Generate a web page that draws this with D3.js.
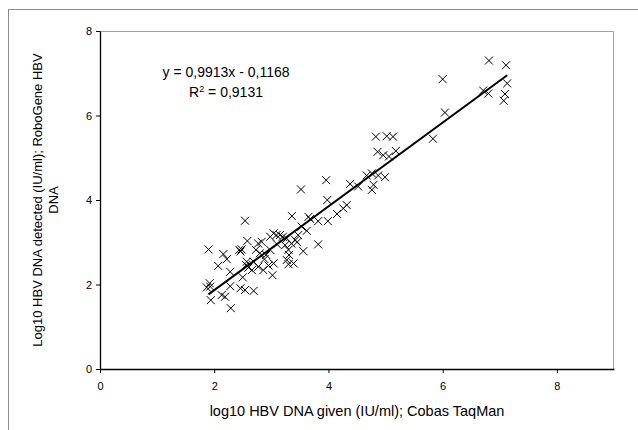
<!DOCTYPE html>
<html>
<head>
<meta charset="utf-8">
<script src="https://cdn.jsdelivr.net/npm/d3@7"></script>
<style>
  body { margin: 0; background: #fff; }
  text { font-family: "Liberation Sans", Arial, sans-serif; fill: #000; }
</style>
</head>
<body>
<div id="chart"></div>
<script>
// data: given (Cobas) vs detected (RoboGene), log10 IU/ml
var givenX = [
  6.81, 7.11, 6.00, 7.13, 6.71, 6.80, 7.09, 7.07, 6.04, 5.83,
  4.83, 5.02, 5.13, 4.86, 4.96, 5.06, 5.18, 4.76, 4.87, 4.99, 4.79, 4.76, 4.67,
  3.96, 3.52, 4.38, 4.52, 3.98, 4.32, 4.26, 4.15, 3.36, 3.65, 3.68, 3.82, 3.99,
  3.53, 3.15, 3.27, 3.47, 3.62, 3.42, 3.82, 3.56, 3.24, 3.30, 3.31, 3.27, 3.39,
  3.30, 3.09, 3.20, 3.35, 3.45,
  2.54, 1.90, 2.58, 2.44, 2.46, 2.16, 2.22, 2.07, 2.28, 2.57, 2.56, 2.50, 2.77,
  2.83, 2.98, 3.04, 2.73, 2.80, 2.91, 2.98, 2.69, 2.77, 2.86, 3.04, 3.02, 2.66,
  1.92, 1.87, 1.93, 2.28, 2.46, 2.54, 2.69, 2.13, 2.19, 1.94, 2.29,
  2.60, 2.48, 2.95, 3.10, 2.88
];
var detectedY = [
  7.30, 7.19, 6.86, 6.76, 6.59, 6.52, 6.51, 6.35, 6.07, 5.45,
  5.50, 5.51, 5.50, 5.14, 5.06, 5.03, 5.16, 4.63, 4.58, 4.54, 4.36, 4.24, 4.58,
  4.47, 4.25, 4.38, 4.32, 4.00, 3.88, 3.80, 3.67, 3.62, 3.60, 3.55, 3.50, 3.50,
  3.37, 3.17, 3.09, 3.17, 3.27, 3.05, 2.95, 2.79, 2.93, 2.82, 2.70, 2.58, 2.50,
  2.48, 3.17, 3.13, 2.97, 3.00,
  3.51, 2.83, 3.03, 2.82, 2.78, 2.72, 2.60, 2.44, 2.30, 2.54, 2.46, 2.17, 2.97,
  3.01, 3.13, 3.21, 2.82, 2.74, 2.70, 2.82, 2.54, 2.42, 2.34, 2.50, 2.22, 2.34,
  2.03, 1.93, 1.95, 1.96, 1.91, 1.87, 1.85, 1.75, 1.71, 1.63, 1.44,
  2.40, 2.83, 2.45, 2.95, 2.60
];
var xTicks = [0, 2, 4, 6, 8];
var yTicks = [0, 2, 4, 6, 8];
var slope = 0.9913, intercept = -0.1168;
var fitRange = [1.9, 7.13];
var eqText = "y = 0,9913x - 0,1168";
var r2Value = " = 0,9131";

var svgWidth = 638, svgHeight = 430;
var margin = { top: 31, right: 24, bottom: 61, left: 100 };
var width = svgWidth - margin.left - margin.right;
var height = svgHeight - margin.top - margin.bottom;

var svg = d3.select("#chart").append("svg")
  .attr("width", svgWidth)
  .attr("height", svgHeight);

// outer chart frame (only left/top visible)
svg.append("rect")
  .attr("x", 8.5).attr("y", 9.5)
  .attr("width", 700).attr("height", 500)
  .attr("fill", "none")
  .attr("stroke", "#8c8c8c");

var chartGroup = svg.append("g")
  .attr("transform", `translate(${margin.left}, ${margin.top})`);

var x = d3.scaleLinear().domain([0, 9]).range([0, width]);
var y = d3.scaleLinear().domain([0, 8]).range([height, 0]);

// plot area top/right border
chartGroup.append("path")
  .attr("d", `M0,0.5H${width - 0.5}V${height}`)
  .attr("fill", "none")
  .attr("stroke", "#a0a0a0");

var xAxis = chartGroup.append("g")
  .attr("transform", `translate(0, ${height})`)
  .call(d3.axisBottom(x).tickValues(xTicks).tickSize(4).tickSizeOuter(0));
var yAxis = chartGroup.append("g")
  .call(d3.axisLeft(y).tickValues(yTicks).tickSize(4).tickSizeOuter(0));

[xAxis, yAxis].forEach(function (ax) {
  ax.select(".domain").attr("stroke", "#000").attr("stroke-width", 1.3);
  ax.selectAll("text")
    .attr("font-family", "Liberation Sans, Arial, sans-serif")
    .attr("font-size", "11px")
    .attr("fill", "#000");
});
xAxis.selectAll("text").attr("dy", "1.3em");
yAxis.selectAll("text").attr("x", -8);

var points = givenX.map(function (v, i) { return { x: v, y: detectedY[i] }; });

// X markers
chartGroup.selectAll(".pt")
  .data(points)
  .enter()
  .append("path")
  .attr("class", "pt")
  .attr("transform", d => `translate(${x(d.x)}, ${y(d.y)})`)
  .attr("d", "M-4,-4L4,4M-4,4L4,-4")
  .attr("stroke", "#000")
  .attr("stroke-width", 1)
  .attr("fill", "none");

// trendline
chartGroup.append("line")
  .attr("x1", x(fitRange[0]))
  .attr("y1", y(slope * fitRange[0] + intercept))
  .attr("x2", x(fitRange[1]))
  .attr("y2", y(slope * fitRange[1] + intercept))
  .attr("stroke", "#000")
  .attr("stroke-width", 2);

// equation
svg.append("text")
  .attr("x", 226).attr("y", 77)
  .attr("text-anchor", "middle")
  .attr("font-size", "14px")
  .text(eqText);
var r2 = svg.append("text")
  .attr("x", 226).attr("y", 97)
  .attr("text-anchor", "middle")
  .attr("font-size", "14px");
r2.append("tspan").text("R");
r2.append("tspan").attr("dy", -5).attr("font-size", "9px").text("2");
r2.append("tspan").attr("dy", 5).text(r2Value);

// axis titles
svg.append("text")
  .attr("x", margin.left + width / 2)
  .attr("y", 416)
  .attr("text-anchor", "middle")
  .attr("font-size", "14.5px")
  .text("log10 HBV DNA given (IU/ml); Cobas TaqMan");

var yTitle = svg.append("text")
  .attr("transform", `translate(42, ${margin.top + height / 2}) rotate(-90)`)
  .attr("text-anchor", "middle")
  .attr("font-size", "13px");
yTitle.append("tspan").attr("x", 0).attr("y", 0).text("Log10 HBV DNA detected (IU/ml); RoboGene HBV");
yTitle.append("tspan").attr("x", 0).attr("y", 16).text("DNA");
</script>
</body>
</html>
